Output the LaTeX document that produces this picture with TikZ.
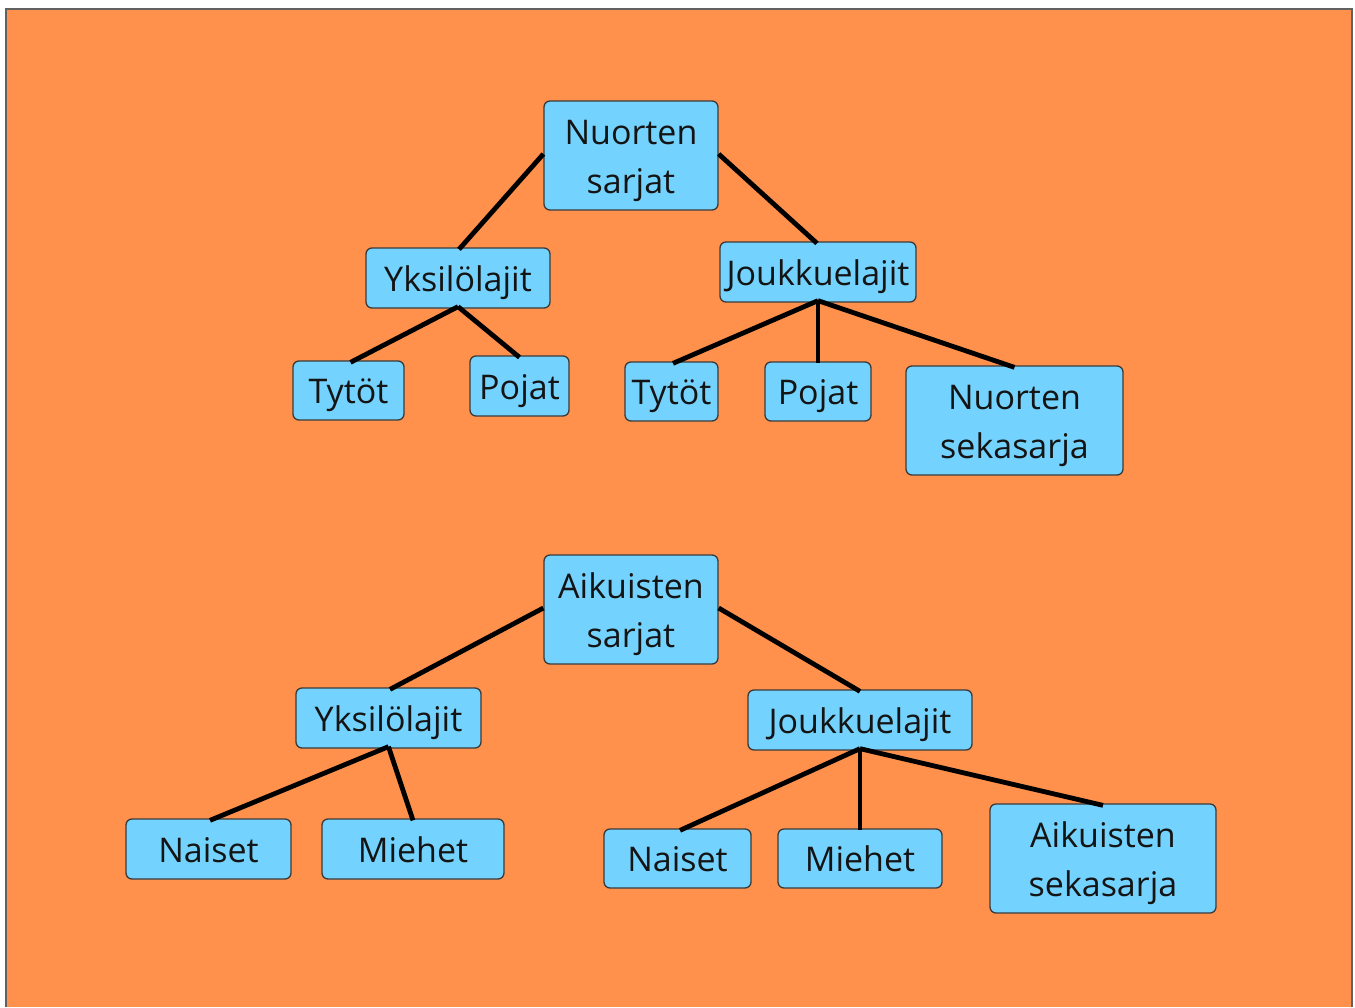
\documentclass[tikz,border=0pt]{standalone}
\usepackage{fontspec}
\setmainfont{Open Sans}
\definecolor{bgorange}{HTML}{FF914D}
\definecolor{boxblue}{HTML}{74D3FE}
\definecolor{edgegray}{HTML}{3A3A3A}
\newcommand\bxtext[1]{\raisebox{-9.5pt}[0pt][0pt]{\begin{tabular}{@{}c@{}}#1\end{tabular}}}
\begin{document}
\begin{tikzpicture}[x=1pt,y=-1pt,
  box/.style={draw=edgegray, line width=1.3pt, fill=boxblue, rounded corners=6pt,
    inner sep=0pt, font=\fontsize{34}{49}\selectfont, text=black!92},
  link/.style={line width=4.8pt, black}]
\useasboundingbox (0,0) rectangle (1355,1007);
\fill[white] (0,0) rectangle (1355,1007);
\fill[bgorange] (6,9) rectangle (1352,1007);
\draw[edgegray!80, line width=1.5pt] (6,1007) -- (6,9) -- (1352,9) -- (1352,1007);
% top tree
\node[box, minimum width=174pt, minimum height=109pt] (ns) at (631,155.5) {\bxtext{Nuorten\\sarjat}};
\node[box, minimum width=184pt, minimum height=60pt] (ny) at (458,278) {\bxtext{Yksilölajit}};
\node[box, minimum width=196pt, minimum height=60pt] (nj) at (818,272) {\bxtext{Joukkuelajit}};
\node[box, minimum width=111pt, minimum height=59pt] (nyt) at (348.5,390.5) {\bxtext{Tytöt}};
\node[box, minimum width=99pt, minimum height=60pt] (nyp) at (519.5,386) {\bxtext{Pojat}};
\node[box, minimum width=93pt, minimum height=59pt] (njt) at (671.5,391.5) {\bxtext{Tytöt}};
\node[box, minimum width=106pt, minimum height=59pt] (njp) at (818,391.5) {\bxtext{Pojat}};
\node[box, minimum width=217pt, minimum height=109pt] (njs) at (1014.5,420.5) {\bxtext{Nuorten\\sekasarja}};
% bottom tree
\node[box, minimum width=174pt, minimum height=109pt] (as) at (631,609.5) {\bxtext{Aikuisten\\sarjat}};
\node[box, minimum width=185pt, minimum height=60pt] (ay) at (388.5,718) {\bxtext{Yksilölajit}};
\node[box, minimum width=224pt, minimum height=60pt] (aj) at (860,720) {\bxtext{Joukkuelajit}};
\node[box, minimum width=165pt, minimum height=60pt] (ayn) at (208.5,849) {\bxtext{Naiset}};
\node[box, minimum width=182pt, minimum height=60pt] (aym) at (413,849) {\bxtext{Miehet}};
\node[box, minimum width=147pt, minimum height=59pt] (ajn) at (677.5,858.5) {\bxtext{Naiset}};
\node[box, minimum width=164pt, minimum height=59pt] (ajm) at (860,858.5) {\bxtext{Miehet}};
\node[box, minimum width=226pt, minimum height=109pt] (ajs) at (1103,858.5) {\bxtext{Aikuisten\\sekasarja}};
% connectors
\draw[link] ([yshift=1.5pt]ns.west) -- ([xshift=1pt,yshift=-2pt]ny.north);
\draw[link] ([yshift=1.5pt]ns.east) -- ([xshift=-1pt,yshift=-2pt]nj.north);
\draw[link] ([yshift=2pt]ny.south) -- ([xshift=2pt,yshift=-2pt]nyt.north);
\draw[link] ([yshift=2pt]ny.south) -- ([yshift=-2pt]nyp.north);
\draw[link] ([yshift=2pt]nj.south) -- ([xshift=1.5pt,yshift=-2pt]njt.north);
\draw[link] ([yshift=2pt]nj.south) -- ([yshift=-2pt]njp.north);
\draw[link] ([yshift=2pt]nj.south) -- ([yshift=-2pt]njs.north);
\draw[link] ([yshift=1.5pt]as.west) -- ([xshift=1.5pt,yshift=-2pt]ay.north);
\draw[link] ([yshift=1.5pt]as.east) -- ([yshift=-2pt]aj.north);
\draw[link] ([yshift=2pt]ay.south) -- ([xshift=1.5pt,yshift=-2pt]ayn.north);
\draw[link] ([yshift=2pt]ay.south) -- ([yshift=-2pt]aym.north);
\draw[link] ([yshift=2pt]aj.south) -- ([xshift=2.5pt,yshift=-2pt]ajn.north);
\draw[link] ([yshift=2pt]aj.south) -- ([yshift=-2pt]ajm.north);
\draw[link] ([yshift=2pt]aj.south) -- ([yshift=-2pt]ajs.north);
\end{tikzpicture}
\end{document}
